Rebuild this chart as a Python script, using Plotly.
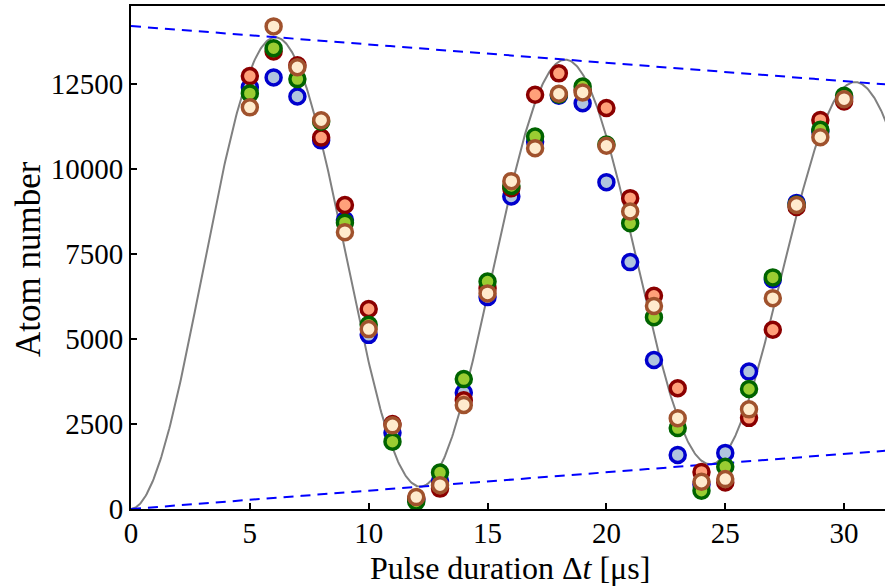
import numpy as np
import plotly.graph_objects as go

# Pulse durations (µs)
t_points = [5, 6, 7, 8, 9, 10, 11, 12, 13, 14, 15, 16, 17, 18, 19, 20, 21, 22, 23, 24, 25, 26, 27, 28, 29, 30]

# Atom numbers for four measurement series
blue_vals = [12400, 12690, 12130, 10840, 8500, 5120, 2240, 280, 820, 3420, 6230, 9190, 10800, 12150,
             11930, 9610, 7260, 4380, 1590, 720, 1650, 4040, 6750, 9000, 11100, 12100]
red_vals = [12730, 13450, 13050, 10920, 8940, 5880, 2500, 300, 600, 3200, 6490, 9430, 12180, 12810,
            12320, 11790, 9140, 6270, 3550, 1090, 780, 2680, 5270, 8880, 11440, 11980]
green_vals = [12220, 13550, 12640, 11390, 8420, 5420, 1980, 220, 1070, 3820, 6690, 9500, 10950, 12180,
              12420, 10720, 8400, 5640, 2380, 540, 1240, 3530, 6810, 8950, 11150, 12150]
brown_vals = [11810, 14190, 12990, 11430, 8140, 5290, 2460, 350, 700, 3060, 6340, 9640, 10610, 12210,
              12250, 10680, 8750, 5970, 2670, 800, 880, 2930, 6200, 8940, 10930, 12050]

# Fit model parameters: N(t) = k t + (A - 2 k t) sin^2(pi t / T)
fit_A = 14200.0
fit_k = 54.0
fit_T = 12.2

x_ticks = [0, 5, 10, 15, 20, 25, 30]
x_ticktext = ["0", "5", "10", "15", "20", "25", "30"]
y_ticks = [0, 2500, 5000, 7500, 10000, 12500]
y_ticktext = ["0", "2500", "5000", "7500", "10000", "12500"]

t_fit = np.linspace(0, 33, 800)
n_fit = fit_k * t_fit + (fit_A - 2 * fit_k * t_fit) * np.sin(np.pi * t_fit / fit_T) ** 2
upper = fit_A - fit_k * t_fit
lower = fit_k * t_fit

FONT = "Liberation Serif"

fig = go.Figure()
fig.add_trace(go.Scatter(x=t_fit, y=n_fit, mode="lines",
                         line=dict(color="#808080", width=2), showlegend=False, hoverinfo="skip"))
fig.add_trace(go.Scatter(x=t_fit, y=upper, mode="lines",
                         line=dict(color="#0000FF", width=2, dash="10px,7px"), showlegend=False, hoverinfo="skip"))
fig.add_trace(go.Scatter(x=t_fit, y=lower, mode="lines",
                         line=dict(color="#0000FF", width=2, dash="10px,7px"), showlegend=False, hoverinfo="skip"))

series = [
    (blue_vals, "#0000CD", "#B0C4DE"),
    (red_vals, "#8B0000", "#FFA07A"),
    (green_vals, "#006400", "#9ACD32"),
    (brown_vals, "#A0522D", "#FFEBCD"),
]
for vals, edge, fill in series:
    fig.add_trace(go.Scatter(x=t_points, y=vals, mode="markers",
                             marker=dict(size=15, color=fill, line=dict(color=edge, width=3.5)),
                             showlegend=False))

fig.update_layout(
    width=885, height=587,
    margin=dict(l=131, r=0, t=6, b=78, autoexpand=False),
    plot_bgcolor="white", paper_bgcolor="white",
    font=dict(family=FONT, size=29, color="black"),
    xaxis=dict(range=[0, 31.72], tickvals=x_ticks, ticktext=x_ticktext, ticks="inside", ticklen=6,
               tickwidth=1.5, tickcolor="black", showline=True, linecolor="black", linewidth=2,
               mirror=True, showgrid=False, zeroline=False, automargin=False, ticklabelstandoff=-3),
    yaxis=dict(range=[0, 14790], tickvals=y_ticks, ticktext=y_ticktext, ticks="inside", ticklen=6,
               tickwidth=1.5, tickcolor="black", showline=True, linecolor="black", linewidth=2,
               mirror=False, showgrid=False, zeroline=False, automargin=False),
    annotations=[
        dict(text="Pulse duration Δ<i>t</i> [μs]", xref="paper", yref="paper",
             x=(510 - 131) / 754, y=(509 - 568) / 503, xanchor="center", yanchor="middle",
             showarrow=False, font=dict(size=32)),
        dict(text="Atom number", xref="paper", yref="paper",
             x=(28 - 131) / 754, y=(509 - 259) / 503, xanchor="center", yanchor="middle",
             textangle=-90, showarrow=False, font=dict(size=35)),
    ],
)

fig.write_html("out.html", config={"displayModeBar": False},
               post_script="document.body.style.margin='0';document.body.style.overflow='hidden';")
